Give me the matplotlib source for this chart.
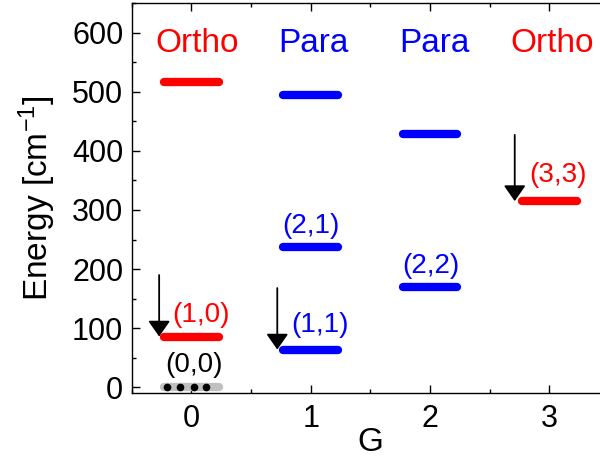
import matplotlib
matplotlib.use("Agg")
import matplotlib.pyplot as plt
from matplotlib.ticker import MultipleLocator

plt.rcParams['font.family'] = ['Liberation Sans', 'DejaVu Sans']
plt.rcParams['mathtext.default'] = 'regular'

# energy levels: G, energy, colour
level_g = [0, 0, 0, 1, 1, 1, 2, 2, 3]
level_e = [0, 86, 516, 64, 238, 495, 169, 428, 315]
level_c = ['#c0c0c0', 'red', 'red', 'blue', 'blue', 'blue', 'blue', 'blue', 'red']

# labelled states
state_txt = ['(0,0)', '(1,0)', '(1,1)', '(2,1)', '(2,2)', '(3,3)']
state_x = [0.02, 0.08, 1.075, 1.0, 2.01, 3.07]
state_y = [38, 123, 106, 273, 206, 359]
state_c = ['black', 'red', 'blue', 'blue', 'blue', 'red']

# symmetry headers
sym_txt = ['Ortho', 'Para', 'Para', 'Ortho']
sym_x = [0.05, 1.02, 2.04, 3.02]
sym_c = ['red', 'blue', 'blue', 'red']

# arrows: x, start, end
arr_x = [-0.27, 0.72, 2.71]
arr_top = [190, 168, 427]
arr_tip = [86, 64, 315]

# dots on the ground state
dot_x = [-0.2, -0.094, 0.018, 0.122]

fig = plt.figure(figsize=(6, 4.63), dpi=100)
ax = fig.add_axes([0.2195, 0.1505, 0.7955, 0.843])

half = 0.23
for g, e, c in zip(level_g, level_e, level_c):
    ax.plot([g - half, g + half], [e, e], color=c, lw=6, solid_capstyle='round', zorder=2)

ax.plot(dot_x, [0] * len(dot_x), 'o', color='black', ms=4.5, zorder=3)

for t, x, y, c in zip(state_txt, state_x, state_y, state_c):
    ax.text(x, y, t, color=c, fontsize=20, ha='center', va='center')

for t, x, c in zip(sym_txt, sym_x, sym_c):
    ax.text(x, 582, t, color=c, fontsize=24, ha='center', va='center')

for x, y0, y1 in zip(arr_x, arr_top, arr_tip):
    ax.annotate('', xy=(x, y1), xytext=(x, y0),
                arrowprops=dict(arrowstyle='-|>,head_length=0.6,head_width=0.42',
                                color='black', lw=1.3, mutation_scale=16,
                                shrinkA=0, shrinkB=0))

ax.set_xlim(-0.5, 3.5)
ax.set_ylim(-10, 650)
ax.xaxis.set_major_locator(MultipleLocator(1))
ax.xaxis.set_minor_locator(MultipleLocator(0.5))
ax.yaxis.set_major_locator(MultipleLocator(100))
ax.yaxis.set_minor_locator(MultipleLocator(50))
ax.tick_params(which='both', direction='in', top=True, right=True, width=1)
ax.tick_params(which='major', length=6)
ax.tick_params(which='minor', length=3)
ax.tick_params(axis='x', labelsize=22, pad=8)
ax.tick_params(axis='y', labelsize=22, pad=6)
for s in ax.spines.values():
    s.set_linewidth(1)

ax.set_xlabel('G', fontsize=24, labelpad=-5)
ax.set_ylabel('Energy [cm$^{-1}$]', fontsize=24, labelpad=10)

fig.savefig('out.png', dpi=100)
